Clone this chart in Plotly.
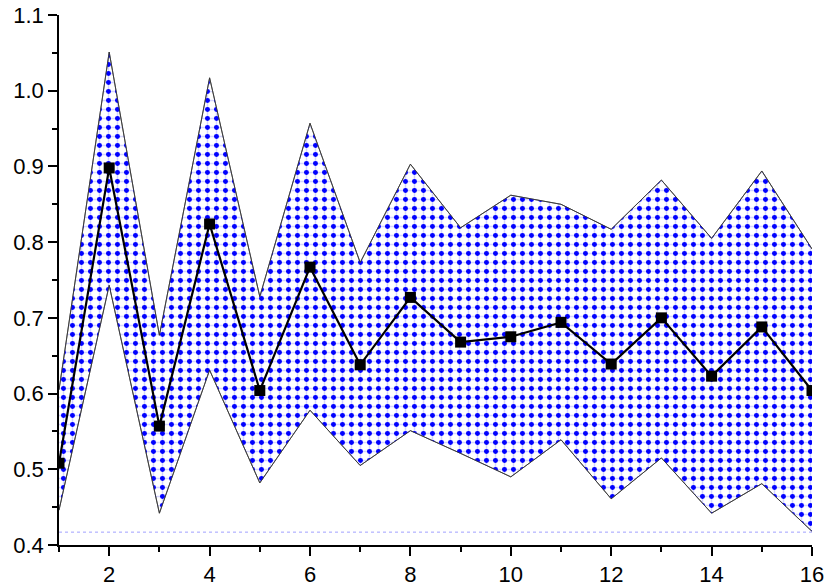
import plotly.graph_objects as go

x_vals = list(range(1, 17))
mean_vals = [0.508, 0.898, 0.557, 0.824, 0.604, 0.767, 0.638, 0.727, 0.668, 0.675, 0.694, 0.639, 0.700, 0.623, 0.688, 0.604]
upper_vals = [0.605, 1.051, 0.677, 1.017, 0.728, 0.957, 0.773, 0.903, 0.819, 0.862, 0.850, 0.817, 0.882, 0.805, 0.894, 0.791]
lower_vals = [0.446, 0.743, 0.442, 0.631, 0.482, 0.578, 0.505, 0.551, 0.521, 0.490, 0.539, 0.461, 0.515, 0.442, 0.481, 0.418]
base_level = 0.417
y_ticks = [0.4, 0.5, 0.6, 0.7, 0.8, 0.9, 1.0, 1.1]
x_ticks = [2, 4, 6, 8, 10, 12, 14, 16]

fig = go.Figure()
edge = dict(color="#333333", width=0.8)

# layer 1: light blue cross grid
fig.add_trace(go.Scatter(x=x_vals, y=lower_vals, mode="lines", line=edge, showlegend=False, hoverinfo="skip"))
fig.add_trace(go.Scatter(x=x_vals, y=upper_vals, mode="lines", line=edge, fill="tonexty",
                         fillpattern=dict(shape="+", fgcolor="#a8a8ff", bgcolor="white", size=9, solidity=0.3),
                         showlegend=False, hoverinfo="skip"))
# layer 2: blue dots
fig.add_trace(go.Scatter(x=x_vals, y=lower_vals, mode="lines", line=edge, showlegend=False, hoverinfo="skip"))
fig.add_trace(go.Scatter(x=x_vals, y=upper_vals, mode="lines", line=edge, fill="tonexty",
                         fillcolor="rgba(0,0,0,0)",
                         fillpattern=dict(shape=".", fgcolor="#0000ff", fgopacity=1, bgcolor="rgba(0,0,0,0)",
                                          size=9, solidity=0.24, fillmode="overlay"),
                         showlegend=False, hoverinfo="skip"))

# dotted base line
fig.add_trace(go.Scatter(x=[x_vals[0], x_vals[-1]], y=[base_level, base_level], mode="lines",
                         line=dict(color="#a0a0ff", width=1, dash="dot"), showlegend=False, hoverinfo="skip"))

# mean line
fig.add_trace(go.Scatter(x=x_vals, y=mean_vals, mode="lines+markers",
                         line=dict(color="black", width=2.2),
                         marker=dict(symbol="square", size=11, color="black"),
                         showlegend=False))

axis_font = dict(family="Arial, Liberation Sans, sans-serif", size=22, color="black")
fig.update_layout(
    width=830, height=587,
    margin=dict(l=59, r=18, t=15, b=42),
    plot_bgcolor="white", paper_bgcolor="white",
    font=axis_font,
    xaxis=dict(range=[1, 16], tickvals=x_ticks, showgrid=False, zeroline=False,
               showline=True, linecolor="black", linewidth=1.5,
               ticks="outside", ticklen=9, tickwidth=1.5, tickcolor="black",
               tickfont=axis_font, automargin=False,
               minor=dict(dtick=1, tick0=1, ticks="outside", ticklen=5, tickwidth=1.5, tickcolor="black", showgrid=False)),
    yaxis=dict(range=[0.4, 1.1], tickvals=y_ticks, tickformat=".1f", showgrid=False, zeroline=False,
               showline=True, linecolor="black", linewidth=1.5,
               ticks="outside", ticklen=9, tickwidth=1.5, tickcolor="black",
               tickfont=axis_font, automargin=False,
               minor=dict(dtick=0.05, tick0=0.4, ticks="outside", ticklen=5, tickwidth=1.5, tickcolor="black", showgrid=False)),
)

fig.write_html("out.html", config={"displayModeBar": False},
               post_script="document.body.style.margin='0';")
